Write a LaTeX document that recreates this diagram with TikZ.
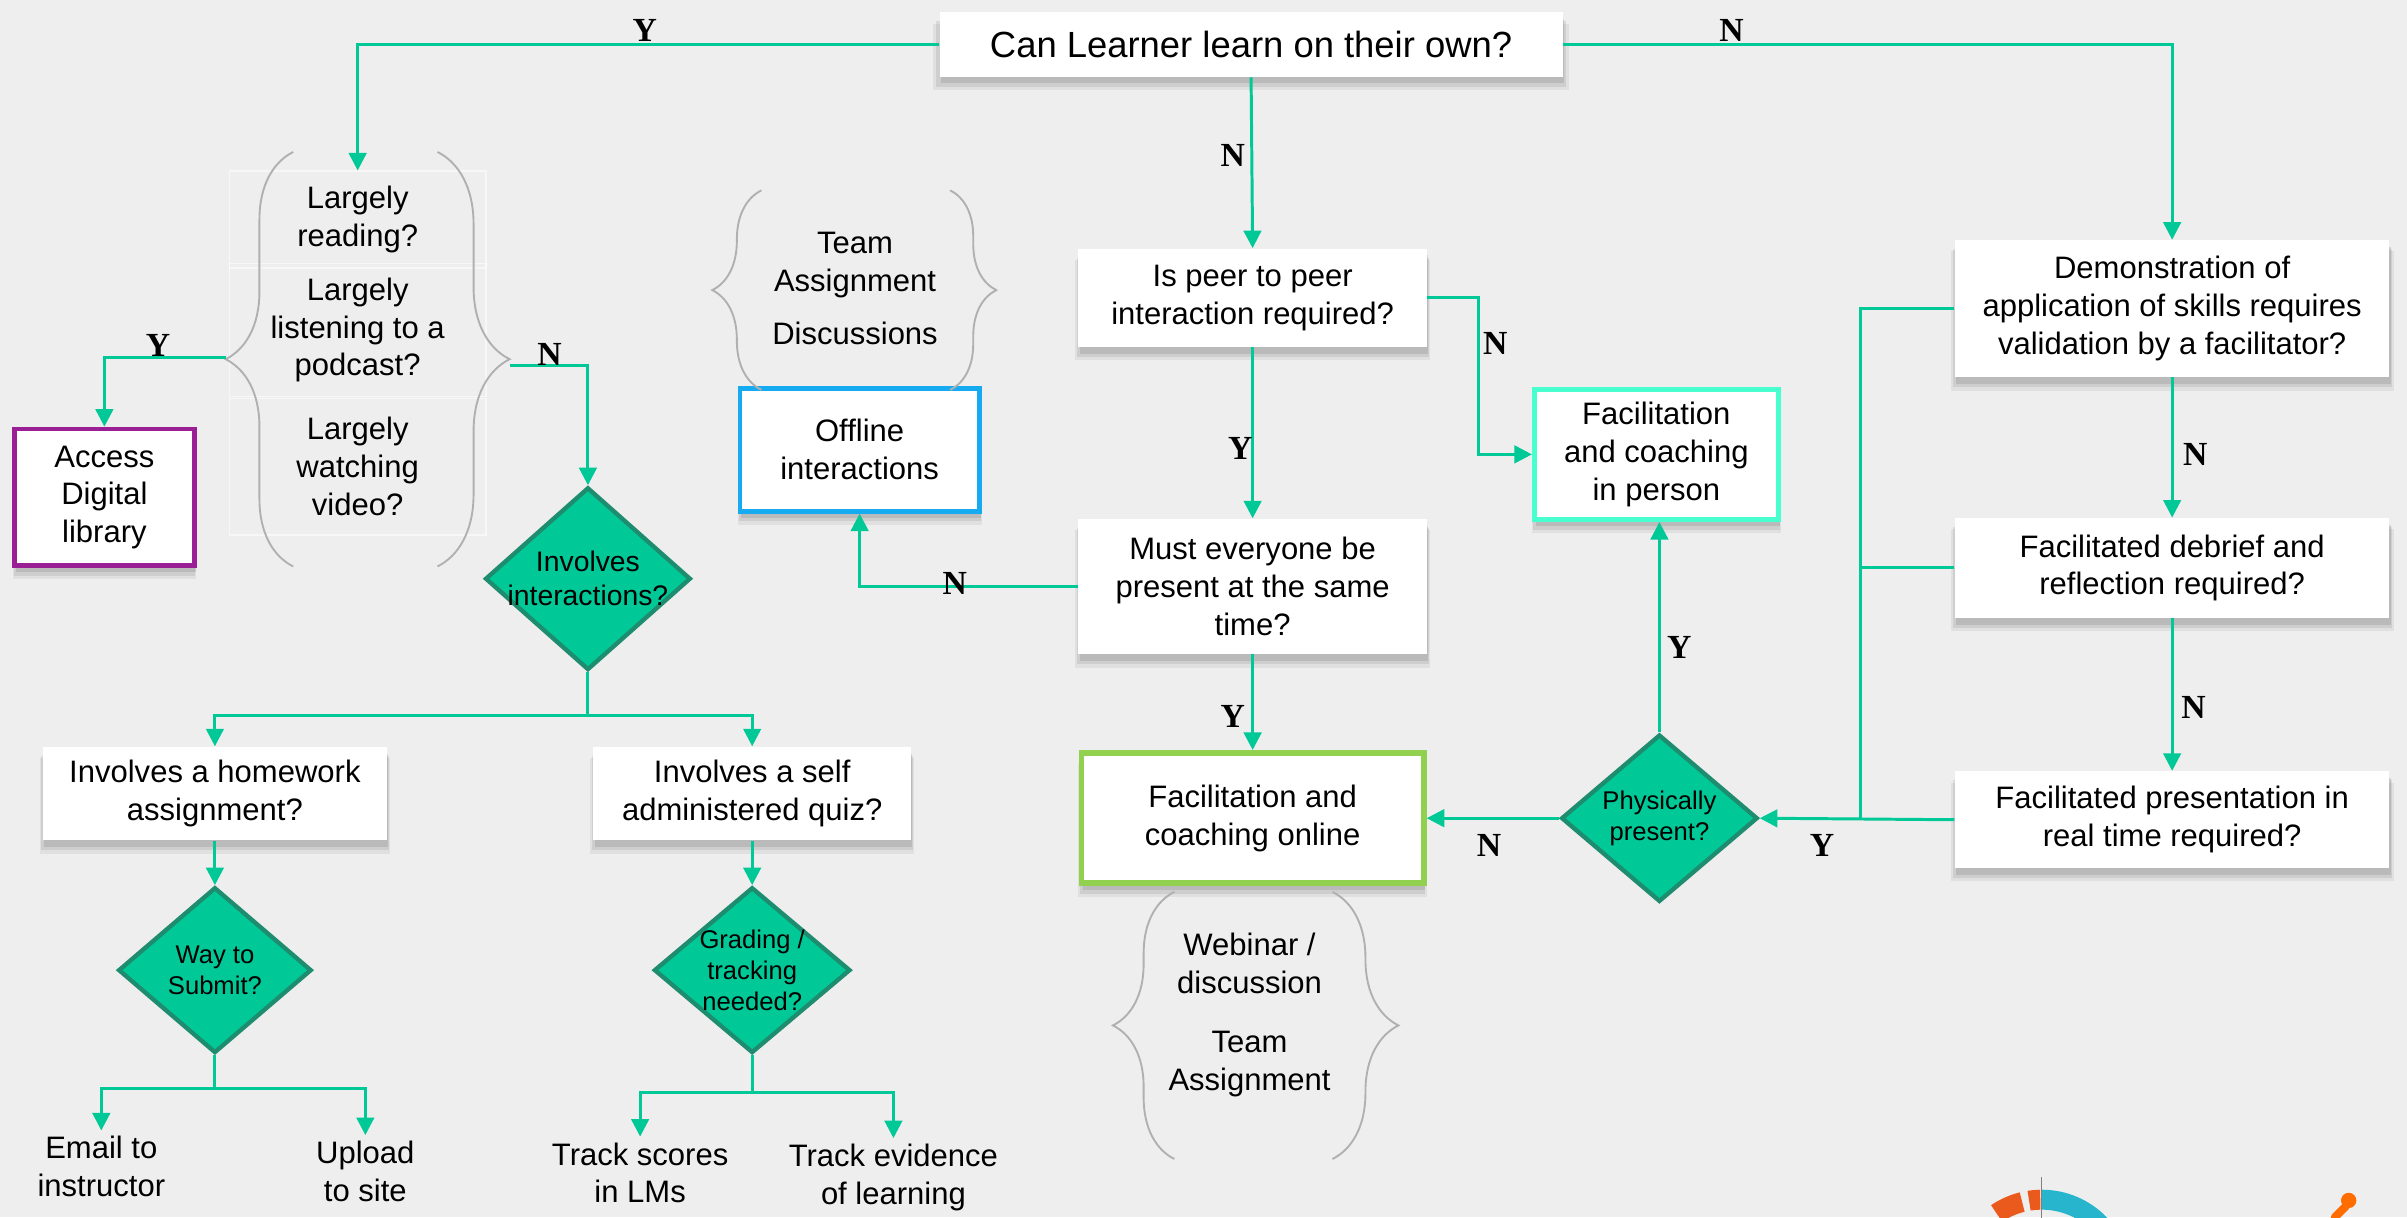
\documentclass[tikz,border=0pt]{standalone}
\usepackage{fontspec}
\setmainfont{Liberation Sans}
\newfontfamily\ynfont{Liberation Serif}
\usepackage{tikz}
\usetikzlibrary{arrows.meta,positioning,shapes.geometric,shadows,
                 decorations.pathreplacing}
\definecolor{FlowGreen}{HTML}{00C896}
\definecolor{DiaEdge}{HTML}{1E8C6E}
\definecolor{OnlineGreen}{HTML}{92D050}
\definecolor{PersonAqua}{HTML}{48FFD0}
\definecolor{OfflineBlue}{HTML}{16AAF0}
\definecolor{LibPurple}{HTML}{9A1F94}
\definecolor{BraceGrey}{HTML}{B0B0B0}
\definecolor{PageGrey}{HTML}{EEEEEE}
\definecolor{LogoTeal}{HTML}{26B5CC}
\definecolor{LogoOrange}{HTML}{EA5A1C}

\begin{document}
\begin{tikzpicture}[
    x=0.02cm, y=-0.02cm,
    qbox/.style={
      fill=white,
      minimum width=4.54cm,
      minimum height=1.28cm,
      inner sep=2pt,
      align=center,
      font=\fontsize{11.5}{14}\selectfont,
      drop shadow={shadow xshift=0pt, shadow yshift=-4.5pt, shadow scale=1.02,
                   opacity=0.12},
      drop shadow={shadow xshift=0pt, shadow yshift=-3.5pt, shadow scale=1.01,
                   opacity=0.18},
      drop shadow={shadow xshift=0.5pt, shadow yshift=-2.5pt, opacity=0.25}
    },
    decision/.style={
      diamond,
      fill=FlowGreen,
      draw=DiaEdge,
      line width=1.6pt,
      inner sep=-3pt,
      minimum width=2.56cm,
      minimum height=2.18cm,
      align=center,
      font=\fontsize{9.5}{11.5}\selectfont
    },
    ghost/.style={
      draw=white,
      draw opacity=0.55,
      line width=0.5pt,
      minimum width=3.34cm,
      inner sep=1pt,
      align=center,
      font=\fontsize{11.5}{14}\selectfont
    },
    leaf/.style={
      inner sep=2pt,
      align=center,
      font=\fontsize{11.5}{14}\selectfont
    },
    arr/.style={
      -{Triangle[length=6.5pt,width=6.5pt]},
      line width=1.1pt,
      color=FlowGreen
    },
    link/.style={
      line width=1.1pt,
      color=FlowGreen
    },
    brc/.style={
      decorate,
      draw=BraceGrey,
      line width=0.7pt
    },
    yn/.style={
      font=\ynfont\bfseries\fontsize{12.5}{12.5}\selectfont
    }
  ]

  % Page
  \fill[PageGrey] (0,0) rectangle (1568,793);
  \useasboundingbox (0,0) rectangle (1568,793);

  % Main question
  \node[qbox, minimum width=8.12cm, minimum height=0.84cm,
        font=\fontsize{13.5}{16}\selectfont] (own) at (815,29)
        {Can Learner learn on their own?};

  % Middle column
  \node[qbox] (peer) at (816,194) {Is peer to peer\\interaction required?};
  \node[qbox, minimum height=1.76cm] (same) at (816,382)
        {Must everyone be\\present at the same\\time?};
  \node[qbox, draw=OnlineGreen, line width=2.2pt, minimum width=4.46cm,
        minimum height=1.7cm] (online) at (816,533)
        {Facilitation and\\coaching online};
  \node[qbox, draw=PersonAqua, line width=1.8pt, minimum width=3.18cm,
        minimum height=1.7cm] (person) at (1079,296)
        {Facilitation\\and coaching\\in person};
  \node[qbox, draw=OfflineBlue, line width=1.8pt, minimum width=3.12cm,
        minimum height=1.6cm] (offline) at (560,293) {Offline\\interactions};

  % Right column
  \node[qbox, minimum width=5.66cm, minimum height=1.78cm] (demo) at (1415,201)
        {Demonstration of\\application of skills requires\\validation by a facilitator?};
  \node[qbox, minimum width=5.66cm, minimum height=1.3cm] (debrief) at (1415,370)
        {Facilitated debrief and\\reflection required?};
  \node[qbox, minimum width=5.66cm, minimum height=1.26cm] (realtime) at (1415,534)
        {Facilitated presentation in\\real time required?};
  \node[decision] (phys) at (1081,533) {Physically\\present?};

  % Left column
  \node[ghost, minimum height=1.26cm] (reading) at (233,143) {Largely\\reading?};
  \node[ghost, minimum height=1.74cm] (podcast) at (233,215)
        {Largely\\listening to a\\podcast?};
  \node[ghost, minimum height=1.78cm] (video) at (233,304)
        {Largely\\watching\\video?};
  \node[qbox, draw=LibPurple, line width=1.8pt, minimum width=2.34cm,
        minimum height=1.78cm] (library) at (68,324) {Access\\Digital\\library};
  \node[decision, minimum width=2.68cm, minimum height=2.2cm,
        font=\fontsize{10.5}{12.5}\selectfont] (inter) at (383,377)
        {Involves\\interactions?};
  \node[qbox, minimum width=4.48cm, minimum height=1.22cm] (homework) at (140,517)
        {Involves a homework\\assignment?};
  \node[qbox, minimum width=4.14cm, minimum height=1.22cm] (quiz) at (490,517)
        {Involves a self\\administered quiz?};
  \node[decision, minimum width=2.52cm, minimum height=2.16cm] (submit) at (140,632)
        {Way to\\Submit?};
  \node[decision, minimum height=2.16cm] (grading) at (490,632)
        {Grading /\\tracking\\needed?};

  % Outcomes
  \node[leaf] (email) at (66,760) {Email to\\instructor};
  \node[leaf] (upload) at (238,763) {Upload\\to site};
  \node[leaf] (scores) at (417,764) {Track scores\\in LMs};
  \node[leaf] (evidence) at (582,767) {Track evidence\\of learning};

  % Braced notes
  \node[leaf] (teamoff) at (557,188) {Team\\Assignment\\[6pt]Discussions};
  \node[leaf] (webinar) at (814,661) {Webinar /\\discussion\\[8pt]Team\\Assignment};

  \draw[brc, decoration={brace, amplitude=0.88cm}] (191,369) -- (191,99);
  \draw[brc, decoration={brace, amplitude=0.94cm}] (285,99) -- (285,369);
  \draw[brc, decoration={brace, amplitude=0.64cm}] (496,254) -- (496,124);
  \draw[brc, decoration={brace, amplitude=0.6cm}] (619,124) -- (619,254);
  \draw[brc, decoration={brace, amplitude=0.8cm}] (765,755) -- (765,581);
  \draw[brc, decoration={brace, amplitude=0.86cm}] (868,581) -- (868,755);

  \coordinate (ltip) at (147,233);
  \coordinate (rtip) at (332,238);
  \coordinate (jn) at (1212,534);

  % Flow
  \draw[arr] (own.west) -| (reading.north);
  \draw[arr] (own.east) -| (demo.north);
  \draw[arr] (own.south) -- (peer.north);
  \draw[arr] (ltip) -| (library.north);
  \draw[arr] (rtip) -| (inter.north);
  \draw[arr] (peer.east) -- ++(33,0) |- (person.west);
  \draw[arr] (peer.south) -- (same.north);
  \draw[arr] (same.west) -| (offline.south);
  \draw[arr] (same.south) -- (online.north);
  \draw[arr] (phys.north) -- (phys.north |- person.south);
  \draw[arr] (phys.west) -- (online.east);
  \draw[arr] (demo.south) -- (debrief.north);
  \draw[arr] (debrief.south) -- (realtime.north);
  \draw[arr] (realtime.west) -- (phys.east);
  \draw[link] (demo.west) -| (jn);
  \draw[link] (debrief.west) -- (debrief.west -| jn);

  \draw[arr] (inter.south) -- ++(0,28) -| (homework.north);
  \draw[arr] (inter.south) -- ++(0,28) -| (quiz.north);
  \draw[arr] (homework.south) -- (submit.north);
  \draw[arr] (quiz.south) -- (grading.north);
  \draw[arr] (submit.south) -- ++(0,22) -| (email.north);
  \draw[arr] (submit.south) -- ++(0,22) -| (upload.north);
  \draw[arr] (grading.south) -- ++(0,24) -| (scores.north);
  \draw[arr] (grading.south) -- ++(0,24) -| (evidence.north);

  % Y / N labels
  \node[yn] (y1) at (420,20) {Y};
  \node[yn] (n1) at (1128,20) {N};
  \node[yn] (n2) at (803,101) {N};
  \node[yn] (n3) at (974,224) {N};
  \node[yn] (y2) at (808,292) {Y};
  \node[yn] (n4) at (622,380) {N};
  \node[yn] (y3) at (803,467) {Y};
  \node[yn] (y4) at (1094,422) {Y};
  \node[yn] (n5) at (970,551) {N};
  \node[yn] (n6) at (1430,296) {N};
  \node[yn] (n7) at (1429,461) {N};
  \node[yn] (y5) at (1187,551) {Y};
  \node[yn] (y6) at (103,225) {Y};
  \node[yn] (n8) at (358,231) {N};

  % Logo corner
  \begin{scope}[shift={(1330,834)}, x=1cm, y=1cm]
    \fill[LogoTeal] (0:1.18) arc[start angle=0, end angle=90, radius=1.18]
      -- (90:0.92) arc[start angle=90, end angle=0, radius=0.92] -- cycle;
    \fill[LogoOrange] (91:1.18) arc[start angle=91, end angle=99, radius=1.18]
      -- (99:0.92) arc[start angle=99, end angle=91, radius=0.92] -- cycle;
    \fill[LogoOrange] (104:1.18) arc[start angle=104, end angle=124, radius=1.18]
      -- (124:0.92) arc[start angle=124, end angle=104, radius=0.92] -- cycle;
    \draw[gray, line width=0.6pt] (0,1.34) -- (0,0.8);
  \end{scope}
  \fill[orange!85!red] (1530,782) circle[radius=5];
  \draw[orange!85!red, line width=3pt, line cap=round] (1528,786) -- (1521,793);

\end{tikzpicture}
\end{document}
